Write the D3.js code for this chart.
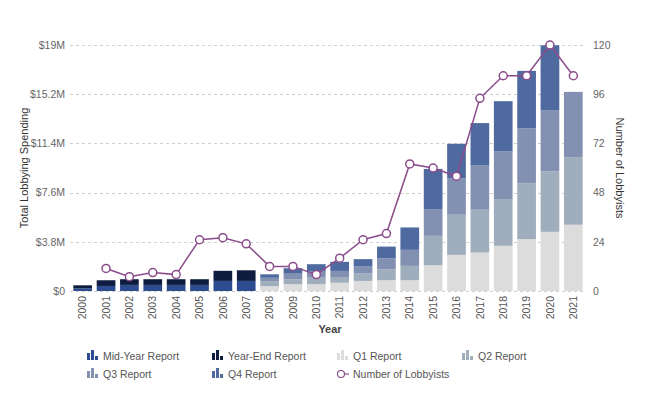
<!DOCTYPE html>
<html>
<head>
<meta charset="utf-8">
<script src="https://cdn.jsdelivr.net/npm/d3@7/dist/d3.min.js"></script>
<style>
  html, body { margin: 0; padding: 0; background: #fff; }
  svg { display: block; font-family: "Liberation Sans", Arial, sans-serif; }
</style>
</head>
<body>
<svg id="chart" width="646" height="400"></svg>
<script>
// ---- Data ----
const years = ["2000","2001","2002","2003","2004","2005","2006","2007","2008","2009","2010",
               "2011","2012","2013","2014","2015","2016","2017","2018","2019","2020","2021"];
// Values in millions of dollars
const midYear = [0.21,0.39,0.47,0.47,0.47,0.47,0.78,0.78,0,0,0,0,0,0,0,0,0,0,0,0,0,0];
const yearEnd = [0.23,0.44,0.44,0.44,0.44,0.44,0.78,0.82,0,0,0,0,0,0,0,0,0,0,0,0,0,0];
const q1 = [0,0,0,0,0,0,0,0,0.38,0.52,0.52,0.64,0.78,0.83,0.83,1.99,2.79,2.97,3.49,4.01,4.57,5.12];
const q2 = [0,0,0,0,0,0,0,0,0.38,0.39,0.51,0.44,0.57,0.85,1.11,2.27,3.10,3.31,3.57,4.31,4.67,5.22];
const q3 = [0,0,0,0,0,0,0,0,0.26,0.43,0.47,0.47,0.54,0.85,1.24,2.07,2.81,3.41,3.72,4.24,4.70,5.04];
const q4 = [0,0,0,0,0,0,0,0,0.27,0.42,0.57,0.70,0.57,0.90,1.73,3.10,2.67,3.28,3.88,4.44,5.04,0];
const lobbyists = [null,11,7,9,8,25,26,23,12,12,8,16,25,28,62,60,56,94,105,105,120,105];

const leftTicks = [0, 3.8, 7.6, 11.4, 15.2, 19];
const leftTickLabels = ["$0", "$3.8M", "$7.6M", "$11.4M", "$15.2M", "$19M"];
const rightTicks = [0, 24, 48, 72, 96, 120];

const seriesNames = ["Mid-Year Report", "Year-End Report", "Q1 Report", "Q2 Report", "Q3 Report", "Q4 Report"];
const seriesColors = ["#2c4c8f", "#0e1c3f", "#dcdcdc", "#a0adbc", "#8291b1", "#4f6a9e"];
const lineColor = "#8b4c8c";

// ---- Build stacked table ----
const seriesArrays = [midYear, yearEnd, q1, q2, q3, q4];
const keys = seriesNames;
const table = years.map((y, i) => {
  const row = { year: y };
  keys.forEach((k, j) => row[k] = seriesArrays[j][i]);
  return row;
});
const stacked = d3.stack().keys(keys)(table);

// ---- Layout ----
const svg = d3.select("#chart");
const plot = { left: 71, right: 585, top: 45, bottom: 291 };

const x = d3.scaleBand().domain(years).range([plot.left, plot.right]).paddingInner(0.2).paddingOuter(0.1);
const y = d3.scaleLinear().domain([0, 19]).range([plot.bottom, plot.top]);
const y2 = d3.scaleLinear().domain([0, 120]).range([plot.bottom, plot.top]);

// Gridlines
svg.append("g").selectAll("line").data(leftTicks).join("line")
  .attr("x1", plot.left - 1).attr("x2", plot.right)
  .attr("y1", d => Math.round(y(d)) + 0.5).attr("y2", d => Math.round(y(d)) + 0.5)
  .attr("stroke", "#cfcfcf").attr("stroke-dasharray", "3,3").attr("stroke-width", 1);

// Left axis
const leftAxis = d3.axisLeft(y).tickValues(leftTicks)
  .tickFormat((d, i) => leftTickLabels[i]).tickSize(0).tickPadding(5);
const gl = svg.append("g").attr("transform", `translate(${plot.left - 1},0)`).call(leftAxis);
gl.select(".domain").remove();
gl.selectAll("text").attr("fill", "#666").attr("font-size", 10.5)
  .attr("font-family", "Liberation Sans, Arial, sans-serif");

// Right axis
const rightAxis = d3.axisRight(y2).tickValues(rightTicks).tickSize(0).tickPadding(8);
const gr = svg.append("g").attr("transform", `translate(${plot.right},0)`).call(rightAxis);
gr.select(".domain").remove();
gr.selectAll("text").attr("fill", "#666").attr("font-size", 10.5)
  .attr("font-family", "Liberation Sans, Arial, sans-serif");

// Bars
svg.append("g").selectAll("g").data(stacked).join("g")
  .attr("fill", (d, i) => seriesColors[i])
  .selectAll("rect").data(d => d.filter(s => s[1] - s[0] > 0)).join("rect")
  .attr("x", d => x(d.data.year))
  .attr("width", x.bandwidth())
  .attr("y", d => y(d[1]))
  .attr("height", d => y(d[0]) - y(d[1]));

// X axis
const xAxis = d3.axisBottom(x).tickSize(0).tickPadding(0);
const gx = svg.append("g").attr("transform", `translate(0,${plot.bottom})`).call(xAxis);
gx.select(".domain").remove();
gx.selectAll(".tick text").attr("fill", "#555").attr("font-size", 10.5)
  .attr("font-family", "Liberation Sans, Arial, sans-serif")
  .attr("transform", "rotate(-90)")
  .attr("text-anchor", "end")
  .attr("x", -5).attr("y", 0).attr("dy", "0.35em");

// Line
const lineData = years.map((yr, i) => ({ year: yr, v: lobbyists[i] })).filter(d => d.v !== null);
const line = d3.line().x(d => x(d.year) + x.bandwidth() / 2).y(d => y2(d.v));
svg.append("path").datum(lineData).attr("d", line)
  .attr("fill", "none").attr("stroke", lineColor).attr("stroke-width", 1.5);
svg.append("g").selectAll("circle").data(lineData).join("circle")
  .attr("cx", d => x(d.year) + x.bandwidth() / 2).attr("cy", d => y2(d.v)).attr("r", 4)
  .attr("fill", "#fff").attr("stroke", lineColor).attr("stroke-width", 1.5);

// Axis titles
svg.append("text").attr("transform", "translate(28,168) rotate(-90)")
  .attr("text-anchor", "middle").attr("font-size", 11).attr("fill", "#333")
  .text("Total Lobbying Spending");
svg.append("text").attr("transform", "translate(616,168) rotate(90)")
  .attr("text-anchor", "middle").attr("font-size", 11).attr("fill", "#333")
  .text("Number of Lobbyists");
svg.append("text").attr("x", 330).attr("y", 333)
  .attr("text-anchor", "middle").attr("font-size", 11).attr("font-weight", "bold").attr("fill", "#444")
  .text("Year");

// Legend
const legendItems = [
  { name: seriesNames[0], color: seriesColors[0], type: "bar" },
  { name: seriesNames[1], color: seriesColors[1], type: "bar" },
  { name: seriesNames[2], color: seriesColors[2], type: "bar" },
  { name: seriesNames[3], color: seriesColors[3], type: "bar" },
  { name: seriesNames[4], color: seriesColors[4], type: "bar" },
  { name: seriesNames[5], color: seriesColors[5], type: "bar" },
  { name: "Number of Lobbyists", color: lineColor, type: "line" }
];
const lg = svg.append("g");
legendItems.forEach((it, i) => {
  const col = i % 4, row = Math.floor(i / 4);
  const gx0 = 87 + col * 125, gy0 = 356 + row * 18;
  const g = lg.append("g").attr("transform", `translate(${gx0},${gy0})`);
  if (it.type === "bar") {
    const hs = [7, 10, 4];
    hs.forEach((h, k) => {
      g.append("rect").attr("x", k * 4).attr("y", 4 - h).attr("width", 3).attr("height", h).attr("fill", it.color);
    });
  } else {
    g.append("line").attr("x1", 4).attr("x2", 12).attr("y1", 0).attr("y2", 0)
      .attr("stroke", it.color).attr("stroke-width", 1.2);
    g.append("circle").attr("cx", 4).attr("cy", 0).attr("r", 3.5)
      .attr("fill", "#fff").attr("stroke", it.color).attr("stroke-width", 1.2);
  }
  g.append("text").attr("x", 16).attr("y", 3.5).attr("font-size", 10.5).attr("fill", "#555")
    .text(it.name);
});
</script>
</body>
</html>
